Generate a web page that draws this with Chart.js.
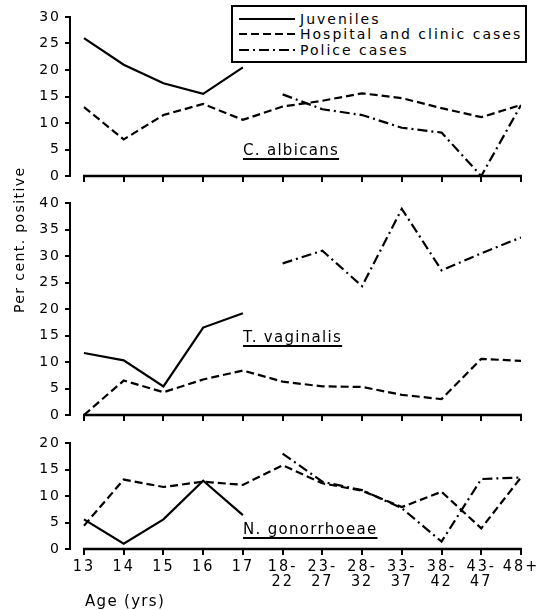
<!DOCTYPE html>
<html>
<head>
<meta charset="utf-8">
<script src="https://cdn.jsdelivr.net/npm/chart.js@4.4.1/dist/chart.umd.min.js"></script>
<style>
  body { margin: 0; background: #fff; }
  #wrap { position: relative; width: 552px; height: 610px; overflow: hidden; font-family: "DejaVu Sans", sans-serif; color: #000; }
  canvas { position: absolute; left: 0; }
  .lbl { position: absolute; font-size: 15px; letter-spacing: 1.3px; white-space: nowrap; line-height: 16px; }
  .sp { text-decoration: underline; text-underline-offset: 3px; text-decoration-thickness: 1.5px; }
  #legend { position: absolute; left: 231px; top: 5px; width: 292px; height: 54px; border: 2px solid #000; background: #fff; }
  #legend .row { position: absolute; left: 0; height: 16px; }
  #legend svg { position: absolute; left: 6px; top: 0; }
  #legend span { position: absolute; left: 67px; top: 0; font-size: 14px; letter-spacing: 2px; line-height: 16px; white-space: nowrap; }
  #ylab { position: absolute; left: 11px; top: 205px; transform-origin: 0 0; transform: translate(0, 108px) rotate(-90deg); font-size: 14px; letter-spacing: 1.4px; line-height: 16px; white-space: nowrap; }
</style>
</head>
<body>
<div id="wrap">
  <canvas id="albicans" width="552" height="190" style="top:0"></canvas>
  <canvas id="vaginalis" width="552" height="240" style="top:190px"></canvas>
  <canvas id="gonorrhoeae" width="552" height="180" style="top:430px"></canvas>

  <div id="legend">
    <div class="row" style="top:4px">
      <svg width="56" height="16"><line x1="0" y1="8" x2="56" y2="8" stroke="#000" stroke-width="2.2"/></svg>
      <span>Juveniles</span>
    </div>
    <div class="row" style="top:19px">
      <svg width="58" height="16"><line x1="0" y1="8" x2="58" y2="8" stroke="#000" stroke-width="2.2" stroke-dasharray="8 4"/></svg>
      <span>Hospital and clinic cases</span>
    </div>
    <div class="row" style="top:35px">
      <svg width="58" height="16"><line x1="0" y1="8" x2="58" y2="8" stroke="#000" stroke-width="2.2" stroke-dasharray="10 4 2 4"/></svg>
      <span>Police cases</span>
    </div>
  </div>

  <div class="lbl sp" style="left:243px;top:142px">C. albicans</div>
  <div class="lbl sp" style="left:243px;top:329px">T. vaginalis</div>
  <div class="lbl sp" style="left:243px;top:521px">N. gonorrhoeae</div>
  <div class="lbl" style="left:85px;top:593px">Age (yrs)</div>
  <div id="ylab">Per cent. positive</div>
</div>

<script>
const ages = ['13', '14', '15', '16', '17', ['18-', '22'], ['23-', '27'], ['28-', '32'],
  ['33-', '37'], ['38-', '42'], ['43-', '47'], '48+'];

// C. albicans
const juvAlbicans = [26, 21, 17.5, 15.5, 20.5, null, null, null, null, null, null, null];
const hospAlbicans = [13, 6.9, 11.5, 13.6, 10.6, 13.1, 14.2, 15.6, 14.7, 12.8, 11.1, 13.4];
const policeAlbicans = [null, null, null, null, null, 15.4, 12.6, 11.5, 9.1, 8.2, 0, 13.4];

// T. vaginalis
const juvVaginalis = [11.7, 10.3, 5.4, 16.5, 19.2, null, null, null, null, null, null, null];
const hospVaginalis = [0, 6.5, 4.3, 6.7, 8.4, 6.3, 5.4, 5.3, 3.8, 3.0, 10.6, 10.2];
const policeVaginalis = [null, null, null, null, null, 28.6, 31, 24.3, 38.9, 27.3, 30.5, 33.5];

// N. gonorrhoeae
const juvGonorrhoeae = [5.6, 1.0, 5.6, 12.9, 6.4, null, null, null, null, null, null, null];
const hospGonorrhoeae = [4.4, 13.1, 11.7, 12.7, 12.1, 15.8, 12.4, 11.0, 7.9, 10.8, 3.9, 13.5];
const policeGonorrhoeae = [null, null, null, null, null, 18, 12.7, 11.1, 7.7, 1.4, 13.2, 13.5];

const toPoints = vals => vals.map((v, i) => ({ x: i, y: v }));

// x axis line runs only from the first to the last age group
const xAxisLine = {
  id: 'xAxisLine',
  beforeDraw(chart) {
    chart.ctx.letterSpacing = '2px';
  },
  afterDraw(chart) {
    const { ctx, chartArea } = chart;
    const x = chart.scales.x;
    ctx.save();
    ctx.letterSpacing = '0px';
    ctx.strokeStyle = '#000';
    ctx.lineWidth = 2.5;
    ctx.beginPath();
    ctx.moveTo(x.getPixelForValue(0) - 1, chartArea.bottom);
    ctx.lineTo(x.getPixelForValue(ages.length - 1) + 1, chartArea.bottom);
    ctx.stroke();
    ctx.restore();
  }
};

function makePanel(id, juv, hosp, police, yMax, padTop, xHeight, showLabels) {
  const ctx = document.getElementById(id).getContext('2d');
  return new Chart(ctx, {
    type: 'line',
    data: {
      datasets: [
        { label: 'Juveniles', data: toPoints(juv), borderDash: [] },
        { label: 'Hospital and clinic cases', data: toPoints(hosp), borderDash: [8, 4] },
        { label: 'Police cases', data: toPoints(police), borderDash: [10, 4, 2, 4] }
      ].map(ds => Object.assign(ds, {
        borderColor: '#000',
        borderWidth: 2.2,
        pointRadius: 0,
        fill: false,
        tension: 0,
        spanGaps: false
      }))
    },
    options: {
      responsive: false,
      animation: false,
      layout: { padding: { top: padTop, right: 31, left: 0, bottom: 0 } },
      plugins: { legend: { display: false }, tooltip: { enabled: false } },
      scales: {
        x: {
          type: 'linear',
          min: -0.352,
          max: ages.length - 1,
          afterBuildTicks: s => { s.ticks = ages.map((_, i) => ({ value: i })); },
          afterFit: s => { s.height = xHeight; },
          ticks: {
            display: showLabels,
            autoSkip: false,
            maxRotation: 0,
            padding: 5,
            color: '#000',
            font: { family: '"Liberation Sans Narrow", "DejaVu Sans Condensed", sans-serif', size: 16, lineHeight: 0.9 },
            callback: v => ages[v]
          },
          grid: { drawOnChartArea: false, drawTicks: true, tickLength: 6, color: '#000', lineWidth: 2 },
          border: { display: false }
        },
        y: {
          min: 0,
          max: yMax,
          afterFit: s => { s.width = 70; },
          ticks: {
            stepSize: 5,
            padding: 4,
            color: '#000',
            font: { family: '"DejaVu Sans", sans-serif', size: 14 }
          },
          grid: { drawOnChartArea: false, drawTicks: true, tickLength: 5, color: '#000', lineWidth: 2 },
          border: { display: true, color: '#000', width: 2 }
        }
      }
    },
    plugins: [xAxisLine]
  });
}

makePanel('albicans', juvAlbicans, hospAlbicans, policeAlbicans, 30, 17, 14, false);
makePanel('vaginalis', juvVaginalis, hospVaginalis, policeVaginalis, 40, 13, 15, false);
makePanel('gonorrhoeae', juvGonorrhoeae, hospGonorrhoeae, policeGonorrhoeae, 20, 13, 61, true);
</script>
</body>
</html>
